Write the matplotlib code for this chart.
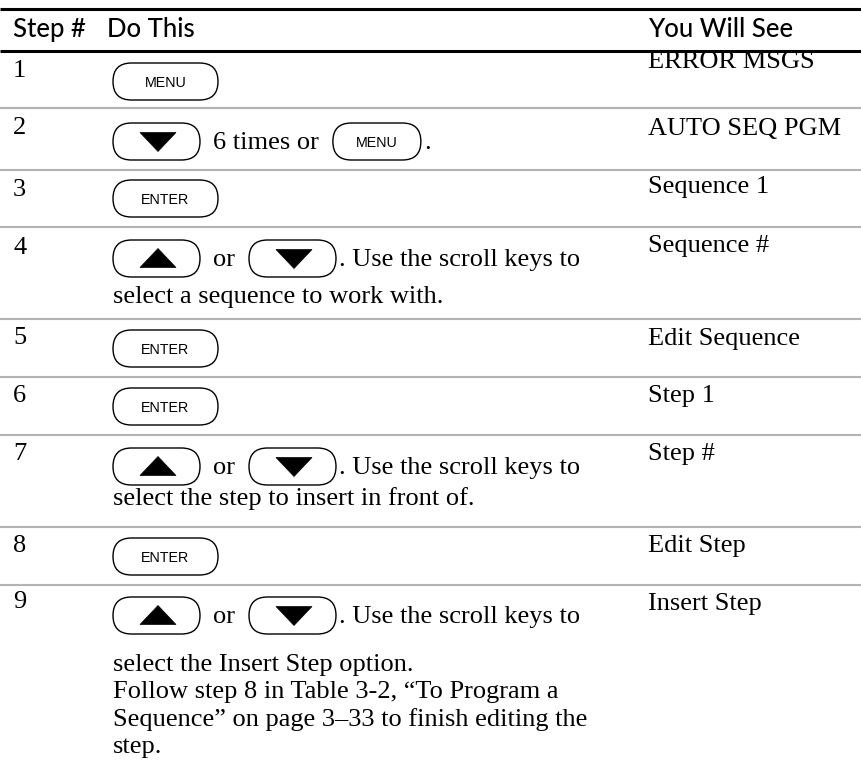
import matplotlib
matplotlib.use('Agg')
import matplotlib.pyplot as plt
from matplotlib.patches import FancyBboxPatch, Polygon

# ---------------- data ----------------
headers = ['Step #', 'Do This', 'You Will See']
steps = ['1', '2', '3', '4', '5', '6', '7', '8', '9']
you_will_see = ['ERROR MSGS', 'AUTO SEQ PGM', 'Sequence 1', 'Sequence #',
                'Edit Sequence', 'Step 1', 'Step #', 'Edit Step', 'Insert Step']
# first line of "Do This": keys ('key'), arrow keys ('up'/'down') and text ('txt')
do_this_first = [
    [('key', 'MENU')],
    [('down', ''), ('txt', '6 times or'), ('key', 'MENU'), ('txt', '.')],
    [('key', 'ENTER')],
    [('up', ''), ('txt', 'or'), ('down', ''), ('txt', '. Use the scroll keys to')],
    [('key', 'ENTER')],
    [('key', 'ENTER')],
    [('up', ''), ('txt', 'or'), ('down', ''), ('txt', '. Use the scroll keys to')],
    [('key', 'ENTER')],
    [('up', ''), ('txt', 'or'), ('down', ''), ('txt', '. Use the scroll keys to')],
]
do_this_more = [
    [], [], [],
    ['select a sequence to work with.'],
    [], [],
    ['select the step to insert in front of.'],
    [],
    ['select the Insert Step option.',
     'Follow step 8 in Table 3-2, \u201cTo Program a',
     'Sequence\u201d on page 3\u201333 to finish editing the',
     'step.'],
]

# ---------------- layout (pixels) ----------------
W, H = 861, 765
col_x = [13, 113, 648]
header_x = [13, 107, 648]
header_rules = [8.5, 50.5]
row_rules = [108, 170, 227, 319, 377, 435, 527, 585]
key_top = [63, 123, 180, 240, 330, 388, 448, 538, 597]
see_base = [68, 135, 193, 252, 345, 402, 460, 552, 610]
step_base = [77, 134, 196, 254, 344, 402, 460, 552, 608]
more_base = [[], [], [], [303], [], [], [505], [], [671, 698, 726, 753]]
KEY_H, ARROW_W = 37, 87
key_w = {(0, 0): 105, (1, 2): 88}   # widths of the labelled keys
DEFAULT_KEY_W = 105

SERIF = 'Liberation Serif'
SERIF_SIZE = 19

fig = plt.figure(figsize=(W / 100, H / 100), dpi=100)
ax = fig.add_axes([0, 0, 1, 1])
ax.set_xlim(0, W)
ax.set_ylim(H, 0)
ax.axis('off')
renderer = fig.canvas.get_renderer()

ax.hlines(header_rules, 0, W, color='black', lw=2.2)
ax.hlines(row_rules, 0, W, color='#b3b3b3', lw=1.5)

for x, h in zip(header_x, headers):
    ax.text(x, 36.5, h, family='Lato', fontsize=18.5, weight='medium',
            va='baseline', ha='left', color='black')


def draw_key(x, top, w, label, kind):
    box = FancyBboxPatch((x, top), w, KEY_H,
                         boxstyle=f"round,pad=0,rounding_size={KEY_H * 0.5}",
                         fc='white', ec='black', lw=1.0)
    ax.add_patch(box)
    cx, cy = x + w / 2 + 1.5, top + KEY_H / 2
    if kind == 'key':
        ax.text(cx - 1.5, cy + 1, label, family='Liberation Sans', fontsize=10.3,
                ha='center', va='center', color='black')
    elif kind == 'up':
        ax.add_patch(Polygon([(cx - 18, cy + 9), (cx + 18, cy + 9), (cx, cy - 10)],
                             closed=True, fc='black', ec='black', lw=0.5))
    else:
        ax.add_patch(Polygon([(cx - 18, cy - 9), (cx + 18, cy - 9), (cx, cy + 10)],
                             closed=True, fc='black', ec='black', lw=0.5))


for i in range(len(steps)):
    ax.text(col_x[0], step_base[i], steps[i], family=SERIF, fontsize=SERIF_SIZE,
            va='baseline', ha='left')
    ax.text(col_x[2], see_base[i], you_will_see[i], family=SERIF,
            fontsize=SERIF_SIZE, va='baseline', ha='left')
    x = col_x[1]
    top = key_top[i]
    prev = None
    for j, (kind, val) in enumerate(do_this_first[i]):
        if kind == 'txt':
            x += 3 if val.startswith('.') else 13
            t = ax.text(x, top + 26, val, family=SERIF, fontsize=SERIF_SIZE,
                        va='baseline', ha='left')
            x += t.get_window_extent(renderer=renderer).width
        else:
            if prev == 'txt':
                x += 14
            w = key_w.get((i, j), DEFAULT_KEY_W) if kind == 'key' else ARROW_W
            draw_key(x, top, w, val, kind)
            x += w
        prev = kind
    for y, line in zip(more_base[i], do_this_more[i]):
        ax.text(col_x[1], y, line, family=SERIF, fontsize=SERIF_SIZE,
                va='baseline', ha='left')

fig.savefig('out.png', dpi=100, facecolor='white')
